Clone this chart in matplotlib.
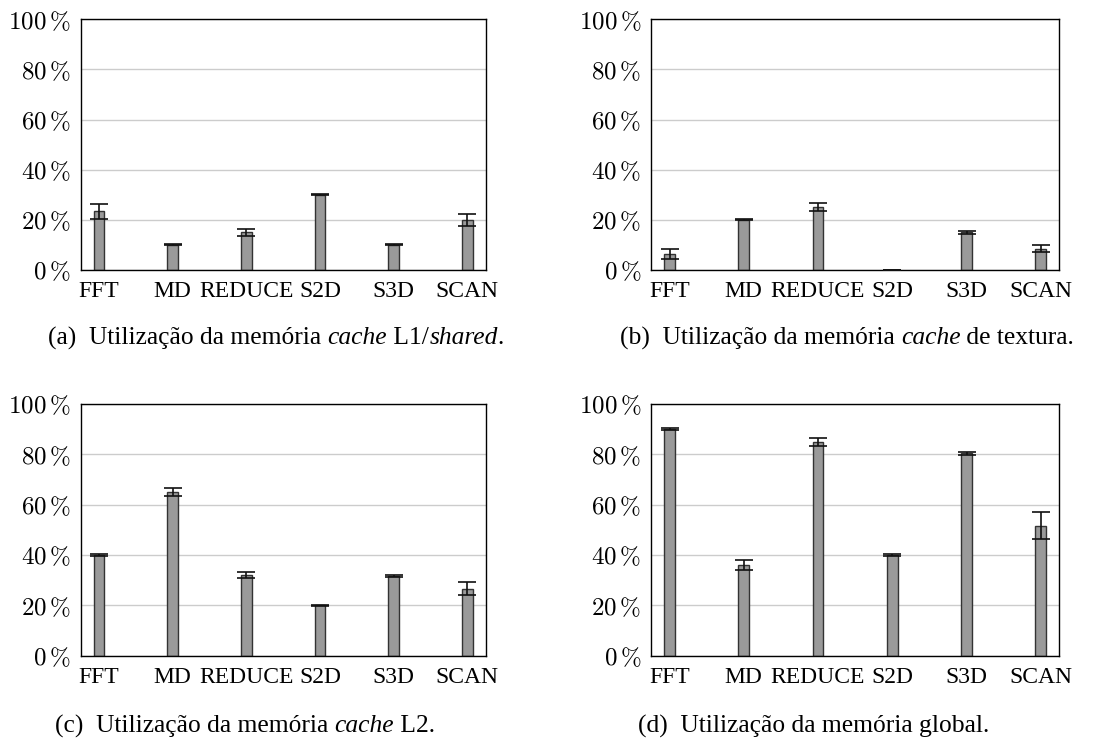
import matplotlib
matplotlib.use("Agg")
import matplotlib.pyplot as plt
from matplotlib.offsetbox import TextArea, HPacker, AnchoredOffsetbox

plt.rcParams["mathtext.fontset"] = "cm"

benchmarks = ["FFT", "MD", "REDUCE", "S2D", "S3D", "SCAN"]

# utilisation (%) and error half-widths for each memory level
l1_shared = [23.5, 10, 15, 30, 10, 20]
l1_shared_err = [3.0, 0.2, 1.5, 0.2, 0.2, 2.5]

texture = [6.5, 20, 25, 0, 15, 8.5]
texture_err = [2.0, 0.2, 1.6, 0.1, 0.5, 1.3]

l2 = [40, 65, 32, 20, 31.6, 26.6]
l2_err = [0.3, 1.5, 1.2, 0.3, 0.5, 2.5]

global_mem = [90, 36, 85, 40, 80.5, 51.7]
global_mem_err = [0.3, 2.1, 1.5, 0.3, 0.6, 5.4]

yticks = [0, 20, 40, 60, 80, 100]

W, H = 1110, 742
fig = plt.figure(figsize=(W / 100, H / 100), dpi=100)

SERIF = "Liberation Serif"


def panel(rect_px, values, errors):
    x0, y0, x1, y1 = rect_px
    ax = fig.add_axes([x0 / W, 1 - y1 / H, (x1 - x0) / W, (y1 - y0) / H])
    pos = list(range(len(benchmarks)))
    ax.set_axisbelow(True)
    ax.bar(pos, values, width=0.145, color="#9a9a9a", edgecolor="#333333",
           linewidth=1.0, zorder=2)
    ax.errorbar(pos, values, yerr=errors, fmt="none", ecolor="#111111",
                elinewidth=1.2, capsize=6.5, capthick=1.2, zorder=3)
    ax.set_xlim(-0.25, 5.25)
    ax.set_ylim(0, 100)
    ax.set_yticks(yticks)
    ax.set_yticklabels([r"$%d\,\%%$" % v for v in yticks], fontsize=18)
    ax.set_xticks(pos)
    ax.set_xticklabels(benchmarks, fontsize=17, fontfamily=SERIF)
    ax.tick_params(length=0, pad=7)
    ax.tick_params(axis="x", pad=8)
    ax.yaxis.grid(True, color="#cccccc", linewidth=1.0)
    for s in ax.spines.values():
        s.set_linewidth(1.0)
        s.set_color("black")
    return ax


def caption(cx, cy, parts):
    boxes = []
    for text, style in parts:
        boxes.append(TextArea(text, textprops=dict(fontfamily=SERIF, fontsize=18.4,
                                                   fontstyle=style)))
    packer = HPacker(children=boxes, pad=0, sep=0, align="baseline")
    anchored = AnchoredOffsetbox(loc="center", child=packer, pad=0, frameon=False,
                                 bbox_to_anchor=(cx / W, 1 - cy / H),
                                 bbox_transform=fig.transFigure, borderpad=0)
    fig.add_artist(anchored)


panel((80.7, 19.3, 485.7, 270), l1_shared, l1_shared_err)
panel((651, 19.3, 1059.3, 270), texture, texture_err)
panel((80.7, 404, 485.7, 655.7), l2, l2_err)
panel((651, 404, 1059.3, 655.7), global_mem, global_mem_err)

caption(276, 338, [("(a)  Utilização da memória ", "normal"), ("cache", "italic"),
                   (" L1/", "normal"), ("shared", "italic"), (".", "normal")])
caption(847, 338, [("(b)  Utilização da memória ", "normal"), ("cache", "italic"),
                   (" de textura.", "normal")])
caption(245, 726, [("(c)  Utilização da memória ", "normal"), ("cache", "italic"),
                   (" L2.", "normal")])
caption(814, 726, [("(d)  Utilização da memória global.", "normal")])

fig.savefig("out.png", dpi=100)
